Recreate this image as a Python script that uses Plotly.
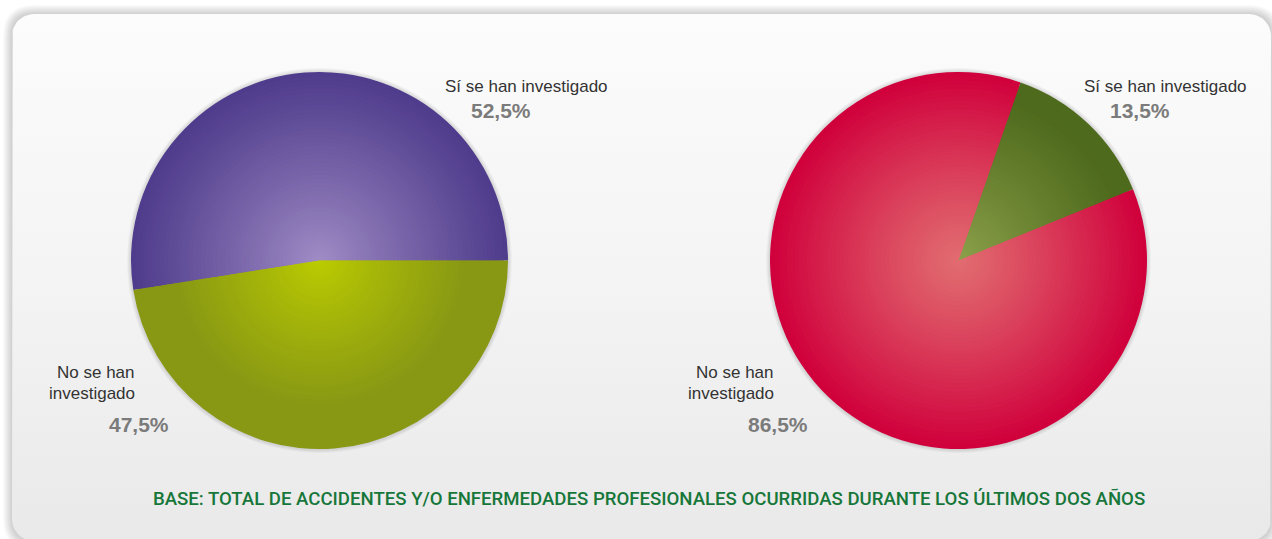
import math
import plotly.graph_objects as go

# ---- data -------------------------------------------------------------
labels = ["Sí se han investigado", "No se han investigado"]
values_left = [52.5, 47.5]     # accidentes
values_right = [13.5, 86.5]    # enfermedades profesionales
pct_text_left = ["52,5%", "47,5%"]
pct_text_right = ["13,5%", "86,5%"]
footer = "BASE: TOTAL DE ACCIDENTES Y/O ENFERMEDADES PROFESIONALES OCURRIDAS DURANTE LOS ÚLTIMOS DOS AÑOS"

# ---- geometry / style -------------------------------------------------
W, H = 1272, 539
R = 188.5
CENTERS = [(319.5, 260.5), (958.5, 260.5)]

# (edge colour, centre colour, fraction of radius where the edge colour is reached, exponent)
STYLE_LEFT = [("#4F3C8C", "#A28EC6", 1.0, 0.9), ("#889814", "#BDCD00", 0.78, 0.9)]
STYLE_RIGHT = [("#4E6A1C", "#8EA24C", 0.9, 0.9), ("#D0003C", "#E16C70", 1.0, 1.15)]
N_LAYERS = 46


def hex2rgb(h):
    h = h.lstrip("#")
    return tuple(int(h[i:i + 2], 16) for i in (0, 2, 4))


def mix(c_edge, c_center, t):
    a, b = hex2rgb(c_edge), hex2rgb(c_center)
    return "rgb(%d,%d,%d)" % tuple(round(b[i] + (a[i] - b[i]) * t) for i in range(3))


def domain_for(cx, cy, r):
    return dict(x=[(cx - r) / W, (cx + r) / W], y=[1 - (cy + r) / H, 1 - (cy - r) / H])


fig = go.Figure()

# panel with soft drop shadow
x0, x1, y0, y1, rad = 12, 1271, 14, 541, 22


def rounded_path(x0, y0, x1, y1, r):
    return (f"M{x0 + r},{y0} L{x1 - r},{y0} Q{x1},{y0} {x1},{y0 + r} "
            f"L{x1},{y1 - r} Q{x1},{y1} {x1 - r},{y1} L{x0 + r},{y1} "
            f"Q{x0},{y1} {x0},{y1 - r} L{x0},{y0 + r} Q{x0},{y0} {x0 + r},{y0} Z")


shapes = []
for i in range(1, 10):
    shapes.append(dict(type="path", xref="x", yref="y", layer="below",
                       path=rounded_path(x0 - i, y0 - i, x1 + i, y1 + i, rad + i),
                       fillcolor="rgba(0,0,0,0.018)", line=dict(width=0)))

# outline of the panel as a filled polygon so it can carry a gradient
px, py = [], []
corners = [(x1 - rad, y0 + rad, -90, 0), (x1 - rad, y1 - rad, 0, 90),
           (x0 + rad, y1 - rad, 90, 180), (x0 + rad, y0 + rad, 180, 270)]
for cx, cy, a0, a1 in corners:
    for k in range(13):
        a = math.radians(a0 + (a1 - a0) * k / 12)
        px.append(cx + rad * math.cos(a))
        py.append(cy + rad * math.sin(a))
px.append(px[0]); py.append(py[0])
fig.add_trace(go.Scatter(
    x=px, y=py, mode="lines", fill="toself", line=dict(width=0, color="rgba(0,0,0,0)"),
    fillgradient=dict(type="vertical", start=y0, stop=y1,
                      colorscale=[[0, "#FCFCFC"], [0.55, "#F3F3F3"], [1, "#E9E9E9"]]),
    hoverinfo="skip", showlegend=False))

# pies: soft halo, then concentric layers building a radial gradient
for (cx, cy), vals, style, rot in [
        (CENTERS[0], values_left, STYLE_LEFT, 90 - values_left[0] * 3.6),
        (CENTERS[1], values_right, STYLE_RIGHT, 19.2)]:
    for i in range(4, 0, -1):
        fig.add_trace(go.Pie(values=[1], domain=domain_for(cx, cy, R + i * 1.0),
                             marker=dict(colors=["rgba(0,0,0,0.03)"]), textinfo="none",
                             hoverinfo="skip", showlegend=False, sort=False))
    for k in range(N_LAYERS):
        r = R * (1 - k / N_LAYERS)
        t = r / R
        cols = [mix(e, c, min(1.0, t / reach) ** ex) for e, c, reach, ex in style]
        fig.add_trace(go.Pie(
            labels=labels, values=vals, sort=False, direction="clockwise", rotation=rot,
            domain=domain_for(cx, cy, r), marker=dict(colors=cols, line=dict(width=0)),
            textinfo="none", hoverinfo="label+percent" if k == 0 else "skip",
            showlegend=False))

# ---- text -------------------------------------------------------------
LABEL_FONT = dict(family="Liberation Sans, Arial, sans-serif", size=17, color="#333333")
PCT_FONT = dict(family="Liberation Sans, Arial, sans-serif", size=21, color="#7B7B7B")
annotations = []


def ann(text, x, y, font, xanchor="center"):
    annotations.append(dict(text=text, x=x / W, y=1 - y / H, xref="paper", yref="paper",
                            showarrow=False, xanchor=xanchor, yanchor="middle", font=font))


for (cx, cy), pct in [(CENTERS[0], pct_text_left), (CENTERS[1], pct_text_right)]:
    ann(labels[0], cx + 207, 86.5, LABEL_FONT)
    ann("<b>%s</b>" % pct[0], cx + 181.5, 110.4, PCT_FONT)
    ann("No se han", cx - 182.5, 372, LABEL_FONT, xanchor="right")
    ann("investigado", cx - 182.5, 393, LABEL_FONT, xanchor="right")
    ann("<b>%s</b>" % pct[1], cx - 181, 424.4, PCT_FONT)

ann(footer, 649, 498.5, dict(family="Roboto, sans-serif", size=18.6, color="#17773A", weight=500))

fig.update_layout(
    width=W, height=H, margin=dict(l=0, r=0, t=0, b=0),
    paper_bgcolor="white", plot_bgcolor="rgba(0,0,0,0)",
    xaxis=dict(range=[0, W], visible=False, fixedrange=True),
    yaxis=dict(range=[H, 0], visible=False, fixedrange=True),
    shapes=shapes, annotations=annotations, showlegend=False,
)

fig.write_html("out.html")
